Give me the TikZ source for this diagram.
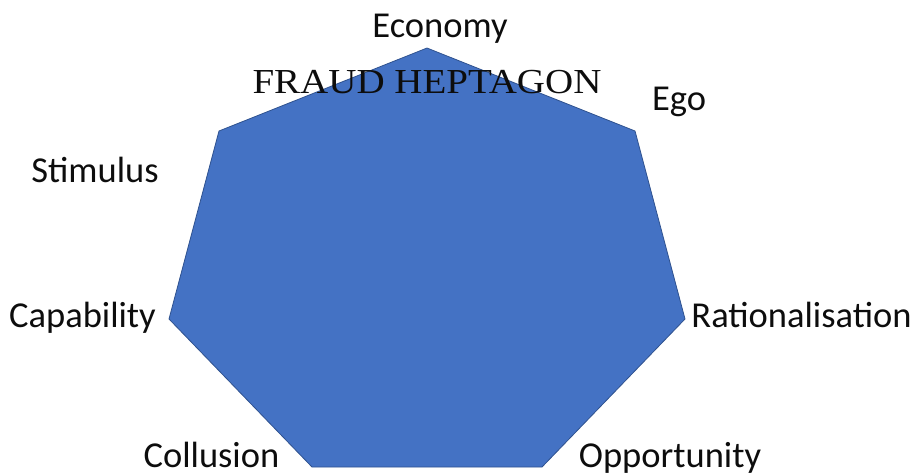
\documentclass[tikz,border=0pt]{standalone}
\usepackage{fontspec}
\setmainfont{Liberation Serif}
\newfontfamily\labelfont{Carlito}
\definecolor{hepfill}{HTML}{4472C4}
\definecolor{hepline}{HTML}{2F528F}
\definecolor{inkdark}{HTML}{0D0D0D}
\begin{document}
\begin{tikzpicture}[x=1pt,y=-1pt,
  factor/.style={font=\labelfont\fontsize{36.5}{40}\selectfont, text=inkdark, inner sep=0pt, anchor=base},
  heading/.style={font=\fontsize{39}{42}\selectfont, text=inkdark, inner sep=0pt, anchor=base, yscale=0.9}]
\useasboundingbox (0,0) rectangle (915,475);
% heptagon corners
\coordinate (v1) at (427,48);
\coordinate (v2) at (635,131);
\coordinate (v3) at (685,319);
\coordinate (v4) at (542,467);
\coordinate (v5) at (312,467);
\coordinate (v6) at (169,319);
\coordinate (v7) at (219,131);
\draw[fill=hepfill, draw=hepline, line width=0.8pt, line join=miter]
  (v1) -- (v2) -- (v3) -- (v4) -- (v5) -- (v6) -- (v7) -- cycle;
% title
\node[heading] (title) at (427,93) {FRAUD HEPTAGON};
% factor labels
\node[factor] (economy) at (440,37) {Economy};
\node[factor] (ego) at (679,110) {Ego};
\node[factor] (stimulus) at (95,182) {Stimulus};
\node[factor] (capability) at (82.5,327) {Capability};
\node[factor] (rational) at (801.5,327) {Rationalisation};
\node[factor] (collusion) at (211.5,467) {Collusion};
\node[factor] (opportunity) at (670,467) {Opportunity};
\end{tikzpicture}
\end{document}
